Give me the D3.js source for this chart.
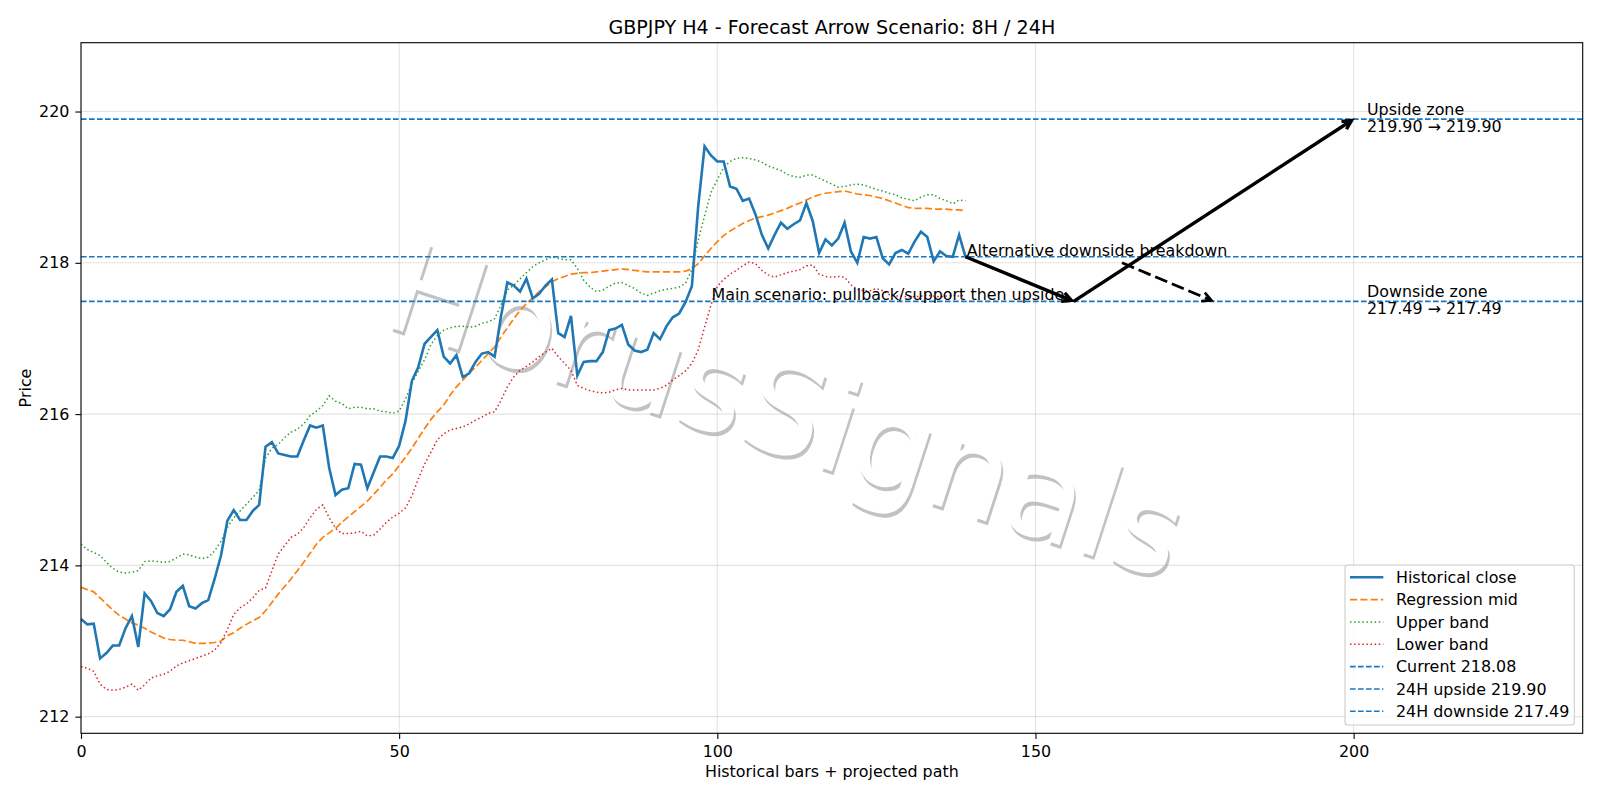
<!DOCTYPE html>
<html>
<head>
<meta charset="utf-8">
<script src="https://cdn.jsdelivr.net/npm/d3@7"></script>
<style>
body { margin: 0; background: #fff; }
text { font-family: "DejaVu Sans", sans-serif; }
</style>
</head>
<body>
<svg id="chart" width="1600" height="800" viewBox="0 0 1600 800"></svg>
<script>
// historical closes, bar 0..139
const closeVals = [213.29,213.22,213.23,212.77,212.84,212.94,212.94,213.17,213.33,212.92,
213.63,213.53,213.37,213.33,213.42,213.65,213.73,213.46,213.43,213.50,
213.54,213.82,214.13,214.59,214.73,214.60,214.60,214.72,214.80,215.57,
215.63,215.48,215.46,215.44,215.44,215.65,215.85,215.82,215.85,215.29,
214.93,215.00,215.02,215.34,215.33,215.02,215.23,215.44,215.44,215.42,
215.58,215.91,216.44,216.62,216.93,217.02,217.11,216.76,216.67,216.78,
216.49,216.54,216.69,216.80,216.82,216.76,217.29,217.74,217.70,217.62,
217.79,217.53,217.59,217.70,217.78,217.07,217.02,217.30,216.51,216.69,
216.70,216.70,216.82,217.11,217.13,217.18,216.92,216.84,216.82,216.85,
217.07,216.99,217.16,217.28,217.33,217.48,217.69,218.75,219.54,219.42,
219.34,219.34,219.01,218.98,218.82,218.85,218.64,218.37,218.19,218.37,
218.53,218.45,218.51,218.56,218.79,218.55,218.13,218.31,218.23,218.32,
218.53,218.15,218.00,218.34,218.32,218.34,218.06,217.98,218.13,218.17,
218.12,218.28,218.41,218.34,218.02,218.15,218.09,218.08,218.37,218.08]

const midVals = [213.71,213.68,213.65,213.57,213.49,213.41,213.34,213.29,213.24,213.21,
213.17,213.12,213.08,213.04,213.02,213.01,213.01,212.99,212.97,212.97,
212.97,212.98,213.00,213.07,213.11,213.17,213.22,213.27,213.31,213.40,
213.51,213.62,213.72,213.82,213.93,214.04,214.16,214.28,214.37,214.43,
214.49,214.57,214.64,214.71,214.78,214.85,214.94,215.03,215.13,215.21,
215.32,215.43,215.55,215.68,215.81,215.93,216.03,216.12,216.25,216.36,
216.45,216.54,216.62,216.71,216.80,216.89,217.02,217.14,217.26,217.37,
217.46,217.54,217.62,217.68,217.75,217.79,217.82,217.85,217.86,217.87,
217.87,217.88,217.89,217.90,217.91,217.92,217.91,217.90,217.89,217.88,
217.88,217.88,217.88,217.88,217.88,217.89,217.92,217.99,218.09,218.19,
218.28,218.36,218.42,218.47,218.52,218.56,218.59,218.61,218.63,218.66,
218.69,218.72,218.76,218.79,218.83,218.87,218.90,218.92,218.93,218.94,
218.95,218.93,218.91,218.90,218.89,218.87,218.85,218.82,218.79,218.76,
218.73,218.72,218.72,218.72,218.71,218.71,218.71,218.70,218.70,218.69]

const upperVals = [214.28,214.21,214.17,214.13,214.04,213.96,213.91,213.90,213.91,213.93,
214.05,214.06,214.05,214.04,214.05,214.10,214.15,214.14,214.11,214.09,
214.11,214.19,214.32,214.50,214.63,214.72,214.81,214.90,214.99,215.42,
215.55,215.60,215.69,215.76,215.80,215.87,215.98,216.04,216.11,216.24,
216.17,216.14,216.07,216.09,216.09,216.07,216.07,216.04,216.03,216.01,
216.04,216.20,216.40,216.57,216.72,216.92,217.04,217.11,217.14,217.16,
217.16,217.15,217.16,217.20,217.22,217.26,217.44,217.64,217.70,217.79,
217.87,217.95,218.00,218.04,218.08,218.06,218.04,218.04,217.93,217.77,
217.68,217.62,217.64,217.69,217.73,217.74,217.70,217.66,217.60,217.57,
217.60,217.63,217.65,217.66,217.68,217.73,217.91,218.30,218.62,218.93,
219.10,219.26,219.34,219.38,219.39,219.38,219.36,219.33,219.28,219.25,
219.22,219.17,219.14,219.13,219.16,219.16,219.12,219.08,219.04,219.00,
219.01,219.03,219.04,219.03,219.00,218.97,218.95,218.92,218.90,218.86,
218.84,218.82,218.87,218.90,218.90,218.85,218.82,218.78,218.83,218.82]

const lowerVals = [212.66,212.64,212.60,212.43,212.36,212.35,212.36,212.39,212.43,212.35,
212.42,212.51,212.54,212.56,212.60,212.67,212.71,212.74,212.77,212.80,
212.83,212.88,212.98,213.15,213.35,213.44,213.49,213.57,213.67,213.70,
213.93,214.15,214.26,214.37,214.41,214.50,214.63,214.74,214.80,214.63,
214.49,214.42,214.42,214.43,214.45,214.39,214.40,214.48,214.57,214.64,
214.69,214.76,214.92,215.14,215.34,215.50,215.66,215.74,215.79,215.81,
215.83,215.87,215.92,215.96,216.01,216.03,216.18,216.36,216.49,216.58,
216.63,216.69,216.76,216.82,216.87,216.76,216.67,216.58,216.38,216.34,
216.31,216.29,216.28,216.29,216.32,216.34,216.32,216.32,216.32,216.32,
216.32,216.34,216.38,216.45,216.51,216.57,216.67,216.85,217.15,217.44,
217.69,217.78,217.85,217.90,217.96,218.01,217.99,217.90,217.84,217.81,
217.84,217.87,217.89,217.91,217.96,217.97,217.85,217.82,217.81,217.82,
217.81,217.71,217.65,217.63,217.63,217.66,217.63,217.58,217.56,217.56,
217.55,217.55,217.56,217.57,217.56,217.55,217.56,217.57,217.56,217.57]

const levelVals = [218.08, 219.90, 217.49]
const levelNames = ["Current 218.08", "24H upside 219.90", "24H downside 217.49"]

// projected path: solid arrows, then dashed alternative
const mainPath = [[139, 218.08], [156, 217.49], [200, 219.90]]
const altPath = [[163.6, 218.0], [178, 217.49]]

const xTicks = [0, 50, 100, 150, 200]
const yTicks = [212, 214, 216, 218, 220]

const svg = d3.select("#chart")
const L = 81, R = 1582.7, T = 42.7, B = 733.3
const fs = 15.9
const levelColor = "#1a76bf"
const levelDash = "5.6,2.4"

const x = d3.scaleLinear().domain([0, 236]).range([L, R])
const y = d3.scaleLinear().domain([211.78, 220.91]).range([B, T])

svg.append("defs").append("clipPath").attr("id", "clip")
    .append("rect").attr("x", L).attr("y", T).attr("width", R - L).attr("height", B - T)

const plot = svg.append("g").attr("clip-path", "url(#clip)")

// watermark
const wm = plot.append("g").attr("transform", "translate(773,452) rotate(18)")
wm.append("text").attr("x", 0).attr("y", 0)
    .attr("transform", "translate(2.8,3.2)")
    .attr("text-anchor", "middle").attr("font-size", 127)
    .attr("fill", "#c2c2c2").text("HorusSignals")
wm.append("text").attr("x", 0).attr("y", 0)
    .attr("text-anchor", "middle").attr("font-size", 127)
    .attr("fill", "#ffffff").text("HorusSignals")

// grid
plot.append("g").selectAll("line").data(xTicks).enter().append("line")
    .attr("x1", d => x(d)).attr("x2", d => x(d)).attr("y1", T).attr("y2", B)
    .attr("stroke", "#b0b0b0").attr("stroke-opacity", 0.35).attr("stroke-width", 1.1)
plot.append("g").selectAll("line").data(yTicks).enter().append("line")
    .attr("y1", d => y(d)).attr("y2", d => y(d)).attr("x1", L).attr("x2", R)
    .attr("stroke", "#b0b0b0").attr("stroke-opacity", 0.35).attr("stroke-width", 1.1)

const line = d3.line().x((d, i) => x(i)).y(d => y(d))

const series = [
    {vals: closeVals, color: "#1f77b4", w: 2.6, dash: null, name: "Historical close"},
    {vals: midVals, color: "#ff7f0e", w: 1.7, dash: "7.2,3.1", name: "Regression mid"},
    {vals: upperVals, color: "#2ca02c", w: 1.5, dash: "1.5,2.6", name: "Upper band"},
    {vals: lowerVals, color: "#d62728", w: 1.5, dash: "1.5,2.6", name: "Lower band"}
]

// bands and mid under close
series.slice(1).concat(series.slice(0, 1)).forEach(s => {
    plot.append("path").datum(s.vals)
        .attr("d", line).attr("fill", "none")
        .attr("stroke", s.color).attr("stroke-width", s.w)
        .attr("stroke-dasharray", s.dash)
})

// level lines
plot.append("g").selectAll("line").data(levelVals).enter().append("line")
    .attr("x1", L).attr("x2", R).attr("y1", d => y(d)).attr("y2", d => y(d))
    .attr("stroke", levelColor).attr("stroke-width", 1.6).attr("stroke-dasharray", levelDash)

// arrows
function arrow(g, p0, p1, w, dash) {
    const x0 = x(p0[0]), y0 = y(p0[1]), x1 = x(p1[0]), y1 = y(p1[1])
    const a = Math.atan2(y1 - y0, x1 - x0)
    const tx = x1 - 2.5 * Math.cos(a), ty = y1 - 2.5 * Math.sin(a)
    g.append("line").attr("x1", x0).attr("y1", y0).attr("x2", tx).attr("y2", ty)
        .attr("stroke", "#000").attr("stroke-width", w).attr("stroke-dasharray", dash)
    const hl = 9, hw = 4.6
    const bx = tx - hl * Math.cos(a), by = ty - hl * Math.sin(a)
    const nx = -Math.sin(a) * hw, ny = Math.cos(a) * hw
    g.append("path")
        .attr("d", `M${bx + nx},${by + ny}L${tx},${ty}L${bx - nx},${by - ny}`)
        .attr("fill", "none").attr("stroke", "#000").attr("stroke-width", w)
        .attr("stroke-linejoin", "miter")
}
const ag = svg.append("g")
arrow(ag, mainPath[0], mainPath[1], 3.4, null)
arrow(ag, mainPath[1], mainPath[2], 3.4, null)
arrow(ag, altPath[0], altPath[1], 2.8, "13,5")

// annotation text
const notes = [
    {t: "Alternative downside breakdown", x: 139.2, y: 218.08, dy: -1},
    {t: "Main scenario: pullback/support then upside", x: 99.1, y: 217.49, dy: -1.5}
]
svg.append("g").selectAll("text").data(notes).enter().append("text")
    .attr("x", d => x(d.x)).attr("y", d => y(d.y) + d.dy)
    .attr("font-size", fs).attr("fill", "#000").text(d => d.t)

const zones = [
    {lines: ["Upside zone", "219.90 \u2192 219.90"], x: 202.1, y: 219.90},
    {lines: ["Downside zone", "217.49 \u2192 217.49"], x: 202.1, y: 217.49}
]
zones.forEach(z => {
    z.lines.forEach((t, k) => {
        svg.append("text").attr("x", x(z.x)).attr("y", y(z.y) - 4 + k * 16.5)
            .attr("font-size", fs).attr("fill", "#000").text(t)
    })
})

// axes
const xAxis = svg.append("g").attr("transform", `translate(0,${B})`)
    .call(d3.axisBottom(x).tickValues(xTicks).tickSize(5.6).tickPadding(6.4))
const yAxis = svg.append("g").attr("transform", `translate(${L},0)`)
    .call(d3.axisLeft(y).tickValues(yTicks).tickSize(5.6).tickPadding(6))
;[xAxis, yAxis].forEach(ax => {
    ax.select(".domain").remove()
    ax.selectAll(".tick line").attr("stroke", "#000").attr("stroke-width", 1.1)
    ax.selectAll(".tick text").attr("font-size", fs).attr("fill", "#000")
        .attr("font-family", "DejaVu Sans")
})

svg.append("rect").attr("x", L).attr("y", T).attr("width", R - L).attr("height", B - T)
    .attr("fill", "none").attr("stroke", "#000").attr("stroke-width", 1.1)

svg.append("text").attr("x", (L + R) / 2).attr("y", 33.5)
    .attr("text-anchor", "middle").attr("font-size", 19.1)
    .text("GBPJPY H4 - Forecast Arrow Scenario: 8H / 24H")
svg.append("text").attr("x", (L + R) / 2).attr("y", 777)
    .attr("text-anchor", "middle").attr("font-size", fs)
    .text("Historical bars + projected path")
svg.append("text").attr("transform", `translate(31,${(T + B) / 2}) rotate(-90)`)
    .attr("text-anchor", "middle").attr("font-size", fs).text("Price")

// legend
const legendItems = series.map(s => ({name: s.name, color: s.color, w: s.w, dash: s.dash}))
    .concat(levelNames.map(n => ({name: n, color: levelColor, w: 1.6, dash: levelDash})))
const lg = svg.append("g")
lg.append("rect").attr("x", 1345).attr("y", 565).attr("width", 229.3).attr("height", 160)
    .attr("rx", 3).attr("fill", "#fff").attr("fill-opacity", 0.8)
    .attr("stroke", "#cccccc").attr("stroke-width", 1.1)
const rows = lg.selectAll("g.row").data(legendItems).enter().append("g")
    .attr("transform", (d, i) => `translate(0,${577.3 + i * 22.33})`)
rows.append("line").attr("x1", 1350).attr("x2", 1383.3).attr("y1", 0).attr("y2", 0)
    .attr("stroke", d => d.color).attr("stroke-width", d => d.w)
    .attr("stroke-dasharray", d => d.dash)
rows.append("text").attr("x", 1396).attr("y", 0).attr("dy", "0.36em")
    .attr("font-size", fs).text(d => d.name)
</script>
</body>
</html>
